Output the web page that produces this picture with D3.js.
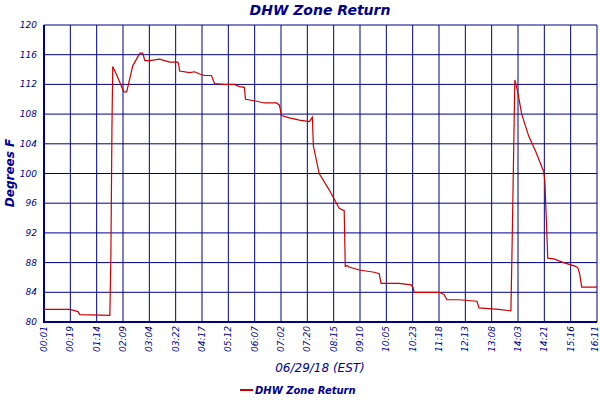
<!DOCTYPE html><html><head><meta charset="utf-8">
<script src="https://cdn.jsdelivr.net/npm/d3@7"></script>
<style>body{margin:0;background:#fff}</style></head><body>
<svg id="c" width="600" height="400"></svg>
<script>
const tickLabels=["00:01","00:19","01:14","02:09","03:04","03:22","04:17","05:12","06:07","07:02","07:20","08:15","09:10","10:05","10:23","11:18","12:13","13:08","14:03","14:21","15:16","16:11"];
const yTicks=[80,84,88,92,96,100,104,108,112,116,120];
// position along the time axis, in tick-interval units
const pos=[0,0.98,1.29,1.36,2.5,2.54,2.58,2.61,2.77,3.03,3.14,3.37,3.64,3.75,3.83,4.02,4.39,4.77,5.08,5.11,5.15,5.53,5.72,5.91,6.1,6.36,6.48,6.86,7.23,7.42,7.61,7.65,7.99,8.37,8.83,8.94,9.02,9.32,9.7,10.08,10.19,10.23,10.45,10.83,11.21,11.4,11.44,11.52,11.59,11.97,12.54,12.73,12.8,13.48,13.94,14.02,14.05,15.0,15.19,15.3,15.76,16.44,16.52,17.27,17.73,17.77,17.88,17.99,18.14,18.41,18.67,18.98,19.02,19.13,19.36,19.73,20.19,20.27,20.34,20.42,20.68,21];
const temps=[81.7,81.7,81.4,81.0,80.9,89,106,114.4,113.2,111.0,111.0,114.5,116.2,116.2,115.2,115.2,115.4,115.0,115.0,114.8,113.8,113.6,113.7,113.4,113.2,113.2,112.1,112.0,112.0,111.7,111.6,110.0,109.8,109.5,109.5,109.2,107.8,107.5,107.2,107.0,107.6,103.7,100.0,97.8,95.3,95.0,87.5,87.6,87.4,87.0,86.7,86.5,85.2,85.2,85.0,84.6,84.0,84.0,83.7,83.0,83.0,82.8,81.9,81.7,81.5,89,112.6,111,108,105,103,100.2,99,88.6,88.5,88,87.5,87.3,86.5,84.7,84.7,84.7];
const data=pos.map((p,i)=>({p,t:temps[i]}));
const svg=d3.select("#c");
const m={l:44,r:597,t:25,b:322};
const x=d3.scaleLinear().domain([0,tickLabels.length-1]).range([m.l,m.r]);
const y=d3.scaleLinear().domain([80,120]).range([m.b,m.t]);
const navy="#00008b";
const g=svg.append("g");
g.selectAll(".vg").data(d3.range(tickLabels.length)).join("line").attr("x1",d=>x(d)).attr("x2",d=>x(d)).attr("y1",m.t).attr("y2",m.b).attr("stroke",navy).attr("stroke-width",1);
g.selectAll(".hg").data(yTicks).join("line").attr("x1",m.l).attr("x2",m.r).attr("y1",d=>y(d)).attr("y2",d=>y(d)).attr("stroke",navy).attr("stroke-width",1);
svg.append("line").attr("x1",m.l).attr("x2",m.l).attr("y1",m.t).attr("y2",m.b+1).attr("stroke",navy).attr("stroke-width",2);
svg.append("line").attr("x1",m.l).attr("x2",m.r).attr("y1",m.b).attr("y2",m.b).attr("stroke",navy).attr("stroke-width",2);
const font="DejaVu Sans";
svg.selectAll(".yl").data(yTicks).join("text").attr("x",37).attr("y",d=>y(d)+3).attr("text-anchor","end").attr("font-family",font).attr("font-style","italic").attr("font-size",9).attr("fill",navy).text(d=>d);
svg.selectAll(".xl").data(tickLabels).join("text").attr("transform",(d,i)=>`translate(${Math.min(x(i)+3,598)},326) rotate(-90)`).attr("text-anchor","end").attr("font-family",font).attr("font-style","italic").attr("font-size",9).attr("fill",navy).text(d=>d);
svg.append("path").datum(data).attr("d",d3.line().x(d=>x(d.p)).y(d=>y(d.t))).attr("fill","none").attr("stroke","#cc0000").attr("stroke-width",1.2);
svg.append("text").attr("x",320).attr("y",15).attr("text-anchor","middle").attr("font-family",font).attr("font-style","italic").attr("font-weight","bold").attr("font-size",14).attr("fill",navy).text("DHW Zone Return");
svg.append("text").attr("transform","translate(14,173) rotate(-90)").attr("text-anchor","middle").attr("font-family",font).attr("font-style","italic").attr("font-weight","bold").attr("font-size",12).attr("fill",navy).text("Degrees F");
svg.append("text").attr("x",320).attr("y",372).attr("text-anchor","middle").attr("font-family",font).attr("font-style","italic").attr("font-size",12).attr("fill",navy).text("06/29/18 (EST)");
svg.append("line").attr("x1",240).attr("x2",253).attr("y1",390).attr("y2",390).attr("stroke","#cc0000").attr("stroke-width",2);
svg.append("text").attr("x",255).attr("y",394).attr("font-family",font).attr("font-style","italic").attr("font-weight","bold").attr("font-size",10).attr("fill",navy).text("DHW Zone Return");
</script></body></html>
